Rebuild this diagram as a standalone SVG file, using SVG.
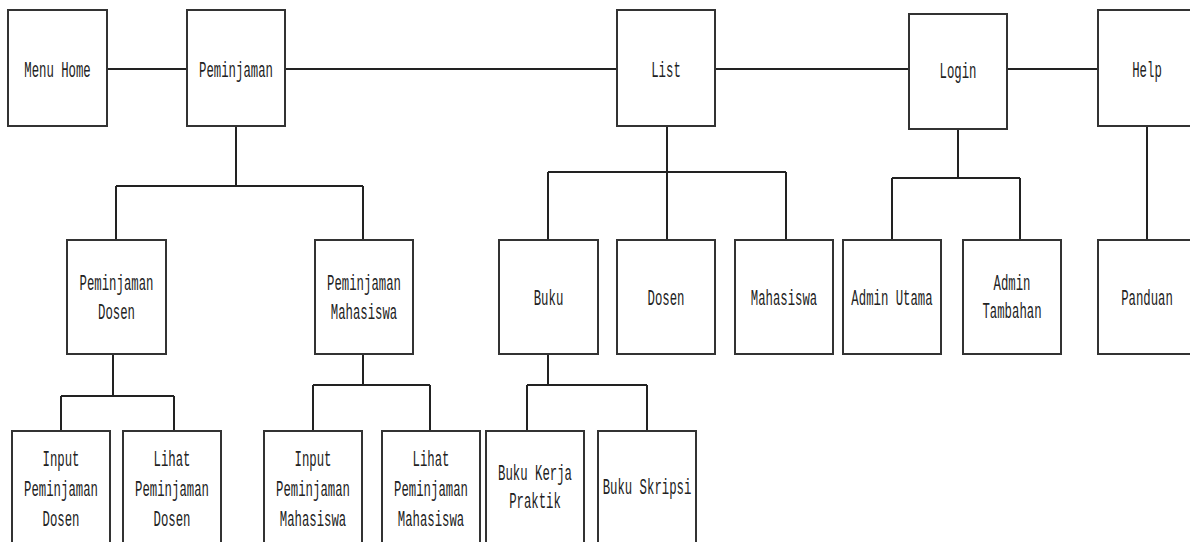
<svg xmlns="http://www.w3.org/2000/svg" width="1190" height="542" viewBox="0 0 1190 542">
<style>
.box{fill:#fff;stroke:#333;stroke-width:2}
.ln{fill:none;stroke:#222;stroke-width:2}
.t{font-family:"Liberation Mono","Courier New",monospace;font-size:22px;fill:#222;text-anchor:middle}
</style>
<rect width="1190" height="542" fill="#fff"/>
<g id="connectors">
<path class="ln" d="M107 69H187M285 69H617M715 69H909M1007 69H1098"/>
<path class="ln" d="M236 126V186M116 186H363M116 186V240M363 186V240"/>
<path class="ln" d="M667 126V172M548 172H786M548 172V240M667 172V240M786 172V240"/>
<path class="ln" d="M958 129V178M892 178H1020M892 178V240M1020 178V240"/>
<path class="ln" d="M1147 126V240"/>
<path class="ln" d="M113 354V396M61 396H174M61 396V431M174 396V431"/>
<path class="ln" d="M363 354V385M313 385H430M313 385V431M430 385V431"/>
<path class="ln" d="M548 354V385M527 385H647M527 385V431M647 385V431"/>
</g>
<g id="menu-home"><rect class="box" x="8" y="10" width="99" height="116"/><text class="t" transform="translate(57.5,0) scale(0.56,1)" y="77">Menu Home</text></g>
<g id="peminjaman"><rect class="box" x="187" y="10" width="98" height="116"/><text class="t" transform="translate(236,0) scale(0.56,1)" y="77">Peminjaman</text></g>
<g id="list"><rect class="box" x="617" y="10" width="98" height="116"/><text class="t" transform="translate(666,0) scale(0.56,1)" y="77">List</text></g>
<g id="login"><rect class="box" x="909" y="14" width="98" height="115"/><text class="t" transform="translate(958,0) scale(0.56,1)" y="78">Login</text></g>
<g id="help"><rect class="box" x="1098" y="10" width="98" height="116"/><text class="t" transform="translate(1147,0) scale(0.56,1)" y="77">Help</text></g>
<g id="peminjaman-dosen"><rect class="box" x="67" y="240" width="99" height="114"/><text class="t" transform="translate(116.5,0) scale(0.56,1)"><tspan x="0" y="290">Peminjaman</tspan><tspan x="0" y="319">Dosen</tspan></text></g>
<g id="peminjaman-mahasiswa"><rect class="box" x="315" y="240" width="98" height="114"/><text class="t" transform="translate(364,0) scale(0.56,1)"><tspan x="0" y="290">Peminjaman</tspan><tspan x="0" y="319">Mahasiswa</tspan></text></g>
<g id="buku"><rect class="box" x="499" y="240" width="99" height="114"/><text class="t" transform="translate(548.5,0) scale(0.56,1)" y="305">Buku</text></g>
<g id="dosen"><rect class="box" x="617" y="240" width="98" height="114"/><text class="t" transform="translate(666,0) scale(0.56,1)" y="305">Dosen</text></g>
<g id="mahasiswa"><rect class="box" x="735" y="240" width="98" height="114"/><text class="t" transform="translate(784,0) scale(0.56,1)" y="305">Mahasiswa</text></g>
<g id="admin-utama"><rect class="box" x="843" y="240" width="98" height="114"/><text class="t" transform="translate(892,0) scale(0.56,1)" y="305">Admin Utama</text></g>
<g id="admin-tambahan"><rect class="box" x="963" y="240" width="98" height="114"/><text class="t" transform="translate(1012,0) scale(0.56,1)"><tspan x="0" y="290">Admin</tspan><tspan x="0" y="318">Tambahan</tspan></text></g>
<g id="panduan"><rect class="box" x="1098" y="240" width="98" height="114"/><text class="t" transform="translate(1147,0) scale(0.56,1)" y="305">Panduan</text></g>
<g id="input-peminjaman-dosen"><rect class="box" x="12" y="431" width="98" height="130"/><text class="t" transform="translate(61,0) scale(0.56,1)"><tspan x="0" y="466">Input</tspan><tspan x="0" y="496">Peminjaman</tspan><tspan x="0" y="526">Dosen</tspan></text></g>
<g id="lihat-peminjaman-dosen"><rect class="box" x="123" y="431" width="98" height="130"/><text class="t" transform="translate(172,0) scale(0.56,1)"><tspan x="0" y="466">Lihat</tspan><tspan x="0" y="496">Peminjaman</tspan><tspan x="0" y="526">Dosen</tspan></text></g>
<g id="input-peminjaman-mahasiswa"><rect class="box" x="264" y="431" width="98" height="130"/><text class="t" transform="translate(313,0) scale(0.56,1)"><tspan x="0" y="466">Input</tspan><tspan x="0" y="496">Peminjaman</tspan><tspan x="0" y="526">Mahasiswa</tspan></text></g>
<g id="lihat-peminjaman-mahasiswa"><rect class="box" x="382" y="431" width="98" height="130"/><text class="t" transform="translate(431,0) scale(0.56,1)"><tspan x="0" y="466">Lihat</tspan><tspan x="0" y="496">Peminjaman</tspan><tspan x="0" y="526">Mahasiswa</tspan></text></g>
<g id="buku-kerja-praktik"><rect class="box" x="486" y="431" width="98" height="130"/><text class="t" transform="translate(535,0) scale(0.56,1)"><tspan x="0" y="480">Buku Kerja</tspan><tspan x="0" y="508">Praktik</tspan></text></g>
<g id="buku-skripsi"><rect class="box" x="598" y="431" width="98" height="130"/><text class="t" transform="translate(647,0) scale(0.56,1)" y="494">Buku Skripsi</text></g>
</svg>
